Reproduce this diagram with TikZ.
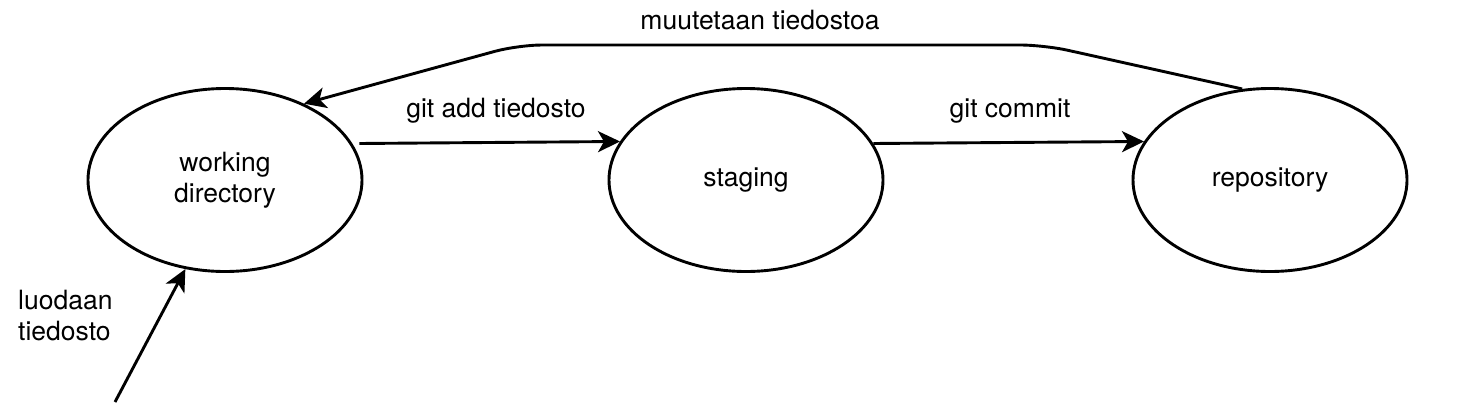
\documentclass[tikz,border=0pt]{standalone}
\usepackage{fontspec}
\setmainfont{TeX Gyre Heros}
\usetikzlibrary{arrows.meta,shapes.geometric}
\begin{document}
\begin{tikzpicture}[x=1pt,y=-1pt,
  every node/.style={font=\fontsize{26.5}{31}\selectfont},
  state/.style={ellipse,draw,line width=2.9pt,minimum width=274pt,minimum height=183pt,inner sep=0pt,align=center},
  arr/.style={line width=2.9pt,-{Stealth[length=22pt,width=21pt,inset=6pt]}},
  lbl/.style={inner sep=0pt}]
\useasboundingbox (0,0) rectangle (1464,402);
\node[state] (wd) at (225,180) {working\\directory};
\node[state] (st) at (746,180) {staging};
\node[state] (repo) at (1270,180) {repository};
\coordinate (src) at (115,402);
\coordinate (c1) at (1044,45);
\coordinate (c2) at (518,45);
\draw[arr] ([xshift=7pt]wd.16.5) -- (st.163.5);
\draw[arr] (st.16.5) -- (repo.163.5);
\draw[arr,rounded corners=24pt] (repo.107) -- (c1) -- (c2) -- (wd.44);
\draw[arr] (src) -- (wd.246);
\node[lbl] (l1) at (496,111) {git add tiedosto};
\node[lbl] (l2) at (1010,111) {git commit};
\node[lbl] (l3) at (760,20) {muutetaan tiedostoa};
\node[lbl,align=left,anchor=west] (l4) at (18,316) {luodaan\\tiedosto};
\end{tikzpicture}
\end{document}
